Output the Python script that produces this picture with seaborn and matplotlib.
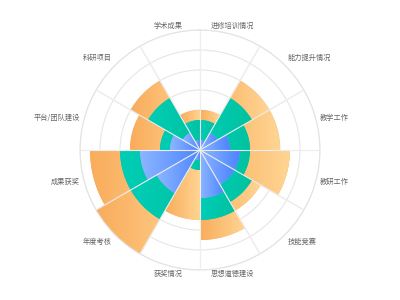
import numpy as np
import pandas as pd
import matplotlib
matplotlib.use("Agg")
import matplotlib.pyplot as plt
import seaborn as sns
from matplotlib.colors import LinearSegmentedColormap
from matplotlib.path import Path
from matplotlib.transforms import IdentityTransform

# ---- data (clockwise from 12 o'clock) ----
categories = ['进修培训情况', '能力提升情况', '教学工作', '教研工作', '技能竞赛', '思想道德建设',
              '获奖情况', '年度考核', '成果获奖', '平台/团队建设', '科研项目', '学术成果']
blue_vals = [5, 10, 15, 20, 20, 24, 5, 25, 30, 15, 10, 5]
teal_vals = [10, 20, 10, 5, 10, 11, 5, 15, 10, 5, 20, 10]
orange_vals = [5, 10, 15, 20, 5, 10, 25, 20, 15, 15, 10, 5]
r_max = 60
ring_ticks = [10, 20, 30, 40, 50, 60]

sns.set_theme(style="white")
plt.rcParams['font.family'] = ['Noto Sans CJK SC', 'DejaVu Sans']

fig = plt.figure(figsize=(4, 3), dpi=100)
ax = fig.add_axes([0.2, 0.1, 0.6, 0.8], projection='polar')
ax.set_theta_zero_location('N')
ax.set_theta_direction(-1)

n = len(categories)
step = 2 * np.pi / n
theta = np.arange(n) * step + step / 2
b = np.array(blue_vals, dtype=float)
t = np.array(teal_vals, dtype=float)
o = np.array(orange_vals, dtype=float)
df = pd.DataFrame({'theta': theta, 'cat': categories,
                   'blue': b, 'teal': b + t, 'orange': b + t + o})

layers = [('orange', '#F9AC5B', '#FFD593'),
          ('teal', '#00CDB6', '#00C2A0'),
          ('blue', '#8DB6FF', '#4C83FF')]

groups = []
for i, (col, c0, c1) in enumerate(layers):
    start = len(ax.patches)
    sns.barplot(data=df, x='theta', y=col, native_scale=True, width=1.0, orient='x',
                errorbar=None, color=c0, saturation=1, linewidth=0, ax=ax, zorder=2 + i)
    groups.append((ax.patches[start:], c0, c1, 2 + i))

ax.set_xlim(0, 2 * np.pi)
ax.set_ylim(0, r_max)
ax.set_xlabel('')
ax.set_ylabel('')
ax.set_xticks(np.arange(n) * step)
ax.set_xticklabels([])
ax.set_yticks(ring_ticks)
ax.set_yticklabels([])
ax.grid(True, color='#e6e6e6', lw=0.8)
ax.set_axisbelow(True)
ax.spines['polar'].set_color('#e2e2e2')
ax.spines['polar'].set_linewidth(0.8)
ax.set_autoscale_on(False)
fig.canvas.draw()

# gradient fills clipped to each bar (sector shape built in display space)
inv = ax.transAxes.inverted()
grad = np.linspace(0, 1, 256).reshape(1, -1)
images = []
for patches, c0, c1, z in groups:
    cmap = LinearSegmentedColormap.from_list('g', [c0, c1])
    for p in patches:
        th0, w = p.get_x(), p.get_width()
        h = p.get_y() + p.get_height()
        ths = np.linspace(th0, th0 + w, 80)
        pts = np.column_stack([ths, np.full_like(ths, h)])
        pts = np.vstack([[th0, 0.0], pts, [th0, 0.0]])
        disp = ax.transData.transform(pts)
        codes = [Path.MOVETO] + [Path.LINETO] * (len(disp) - 2) + [Path.CLOSEPOLY]
        clip = Path(disp, codes)
        xmn, ymn = disp.min(axis=0)
        xmx, ymx = disp.max(axis=0)
        x0, y0 = inv.transform((xmn, ymn))
        x1, y1 = inv.transform((xmx, ymx))
        images.append((grad, cmap, [x0, x1, y0, y1], z, clip))

for g, cmap, ext, z, clip in images:
    im = ax.imshow(g, cmap=cmap, extent=ext, transform=ax.transAxes,
                   aspect='auto', interpolation='bilinear', origin='lower', zorder=z + 0.5)
    im.set_clip_path(clip, IdentityTransform())

ax.set_aspect('equal')
ax.set_xlim(0, 2 * np.pi)
ax.set_ylim(0, r_max)

# radial split lines on top of the bars
ax.vlines(np.arange(n) * step, 0, r_max, colors='#eeeeee', lw=0.8, zorder=10)

# category labels
label_r = 62.2
for th, name in zip(theta, categories):
    s, c = np.sin(th), np.cos(th)
    ha = 'center' if abs(s) < 0.3 else ('left' if s > 0 else 'right')
    va = 'center' if abs(c) < 0.3 else ('bottom' if c > 0 else 'top')
    ax.text(th, label_r, name, ha=ha, va=va, fontsize=5.2, color='#666666')

fig.savefig('out.png', dpi=100, facecolor='white')
